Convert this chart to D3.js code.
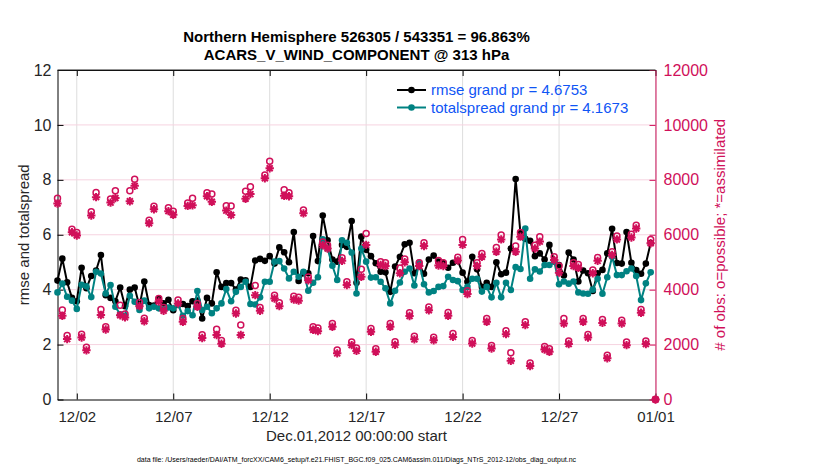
<!DOCTYPE html>
<html>
<head>
<meta charset="utf-8">
<script src="https://cdn.jsdelivr.net/npm/d3@7"></script>
<style>
  body { margin: 0; background: #fff; }
  svg { font-family: "Liberation Sans", Arial, Helvetica, sans-serif; }
  .title { font-size: 15px; font-weight: bold; }
  .tick text { font-size: 16px; }
</style>
</head>
<body>
<div id="container"></div>
<script>
// 6-hourly bins starting Dec 1 2012 00Z
var startTime = "2012-12-01T00:00:00Z";
var stepHours = 6;

var rmse = [4.33,5.13,4.27,3.7,3.58,4.8,4.05,4.5,4.7,5.26,
  3.8,3.7,3.58,4.08,3.4,4.0,4.08,3.4,4.3,3.44,
  3.42,3.68,3.5,3.63,3.25,3.44,3.48,3.4,3.58,3.6,
  2.95,3.7,3.5,4.63,4.1,4.24,4.24,4.0,4.37,4.34,
  4.1,5.06,5.12,5.05,5.22,4.95,5.54,5.36,5.0,6.1,
  4.32,4.6,4.6,5.95,5.04,6.7,5.8,5.1,5.02,5.63,
  5.56,6.5,4.25,5.93,5.45,5.22,4.96,4.65,4.63,3.92,
  4.84,5.2,5.65,5.71,4.6,4.9,4.58,5.1,5.24,5.02,
  4.98,4.8,4.98,5.05,4.62,4.29,5.2,4.74,4.1,4.25,
  4.1,5.0,4.56,4.62,5.5,8.03,6.05,5.85,5.78,5.22,
  5.32,5.1,5.63,5.03,4.9,4.52,5.35,5.1,4.3,4.7,
  4.6,3.95,4.6,4.72,5.32,6.22,4.97,4.95,6.1,4.98,
  4.71,4.58,4.95,5.7];

var spread = [3.9,4.22,3.74,3.6,3.3,4.18,4.12,3.73,4.65,4.59,
  3.86,4.17,3.38,3.1,3.05,3.78,3.56,3.26,3.6,3.32,
  3.38,3.32,3.27,3.35,3.32,3.45,3.05,3.22,3.07,3.95,
  3.26,3.38,3.14,3.32,3.5,4.02,3.58,3.92,4.1,4.29,
  3.48,3.46,3.72,4.29,4.29,5.02,5.04,4.77,4.41,4.65,
  4.47,4.65,3.96,4.25,4.45,5.83,5.5,4.87,4.35,5.8,
  5.71,5.35,3.86,5.5,5.02,4.44,4.45,4.29,4.05,3.5,
  3.96,4.26,4.65,4.77,4.15,4.99,4.2,3.9,3.95,4.1,
  4.13,4.47,4.35,4.31,3.99,4.1,4.4,4.4,3.93,4.1,
  3.72,4.25,3.72,4.25,3.99,4.82,4.75,6.23,4.4,4.74,
  4.66,4.9,4.9,5.03,4.2,4.3,4.22,4.3,3.9,3.86,
  3.85,4.0,4.4,3.85,4.45,5.2,4.53,4.53,4.67,4.77,
  4.5,3.62,4.23,4.63];

var possible = [7330,3260,2330,6200,6080,2380,1900,6840,7540,3280,
  2650,7300,7600,3430,3110,7600,8020,3530,2960,6530,
  7040,3680,3350,6980,6860,3620,2950,7160,7330,3500,
  2360,7530,7480,2560,2150,7060,7050,3250,2710,7580,
  7750,4150,3350,8180,8680,3800,3520,7640,7530,3760,
  3720,6900,4460,2650,2600,5740,5620,2770,1800,5160,
  4290,2090,1880,4740,6050,2590,1850,5020,4980,2770,
  2100,4790,5120,3160,2300,4980,5710,3370,2270,5060,
  4980,3170,2400,5180,5830,3960,2150,4980,5320,2950,
  1970,5540,5990,2500,1700,5590,6080,2830,1330,5620,
  5930,1930,1850,5200,4860,2950,2130,4980,4920,2950,
  2370,4720,5170,2910,1610,5380,5950,2890,2090,6020,
  6350,3280,2130,5830,0];

var assimilated = [7140,3050,2200,6090,5970,2260,1790,6700,7370,3080,
  2550,7170,7340,3070,2990,7220,7780,3400,2850,6420,
  6930,3570,3230,6860,6730,3500,2830,7050,7070,3380,
  2240,7400,7200,2350,2030,6880,6720,3130,2350,7310,
  7480,3800,3230,8060,8420,3680,3400,7420,7400,3640,
  3600,6780,4340,2540,2490,5620,5500,2650,1680,5050,
  4170,1980,1770,4470,5630,2470,1740,4900,4860,2650,
  1990,4600,5000,3040,2190,4860,5590,3250,2160,4880,
  4860,3050,2280,5060,5630,3840,2040,4860,5200,2830,
  1860,5380,5830,2380,1410,5380,5930,2710,1220,5500,
  5750,1820,1740,5080,4620,2770,2020,4860,4800,2830,
  2260,4600,5050,2790,1500,5260,5830,2770,1980,5900,
  6230,3160,2020,5690,0];

var tickDays = ["2012-12-02","2012-12-07","2012-12-12","2012-12-17","2012-12-22","2012-12-27","2013-01-01"];
var tickLabels = ["12/02","12/07","12/12","12/17","12/22","12/27","01/01"];
var leftTicks = [0, 2, 4, 6, 8, 10, 12];
var rightTicks = [0, 2000, 4000, 6000, 8000, 10000, 12000];
var legendLabels = ["rmse grand pr = 4.6753", "totalspread grand pr = 4.1673"];

var width = 830, height = 470;
var margin = { top: 70, right: 174.5, bottom: 70.5, left: 57.5 };
var magenta = "#d0105a", teal = "#008282", legendBlue = "#0f55f5";

var t0 = new Date(startTime);
var times = possible.map(function(d, i) {
  return new Date(t0.getTime() + i * stepHours * 3600 * 1000);
});

var x = d3.scaleUtc()
  .domain([new Date("2012-12-01T00:00:00Z"), new Date("2013-01-01T00:00:00Z")])
  .range([margin.left, width - margin.right]);
var y = d3.scaleLinear()
  .domain([0, 12])
  .range([height - margin.bottom, margin.top]);
var y2 = d3.scaleLinear()
  .domain([0, 12000])
  .range([height - margin.bottom, margin.top]);

var tickDates = tickDays.map(function(d) { return new Date(d + "T00:00:00Z"); });

var svg = d3.select("#container")
  .append("svg")
    .attr("width", width)
    .attr("height", height);

svg.append("rect")
  .attr("width", width)
  .attr("height", height)
  .attr("fill", "#fff");

// grid
svg.append("g")
  .selectAll("line")
    .data(tickDates)
  .enter().append("line")
    .attr("x1", function(d) { return x(d); })
    .attr("x2", function(d) { return x(d); })
    .attr("y1", margin.top)
    .attr("y2", height - margin.bottom)
    .attr("stroke", "#dddddd")
    .attr("stroke-width", 1);
svg.append("g")
  .selectAll("line")
    .data(rightTicks.slice(1, -1))
  .enter().append("line")
    .attr("x1", margin.left)
    .attr("x2", width - margin.right)
    .attr("y1", function(d) { return y2(d); })
    .attr("y2", function(d) { return y2(d); })
    .attr("stroke", "#f6d3e0")
    .attr("stroke-width", 1);

// axes
var xAxis = d3.axisBottom(x)
  .tickValues(tickDates)
  .tickFormat(function(d, i) { return tickLabels[i]; })
  .tickSizeInner(-6)
  .tickSizeOuter(0)
  .tickPadding(12);
var xAxisGroup = svg.append("g")
  .attr("transform", "translate(0," + (height - margin.bottom) + ")")
  .call(xAxis);
xAxisGroup.selectAll("text").attr("fill", "#262626").style("font-size", "15px");

var xAxisTop = d3.axisTop(x)
  .tickValues(tickDates)
  .tickFormat("")
  .tickSizeInner(-6)
  .tickSizeOuter(0);
svg.append("g")
  .attr("transform", "translate(0," + margin.top + ")")
  .call(xAxisTop);

var yAxis = d3.axisLeft(y)
  .tickValues(leftTicks)
  .tickSizeInner(-6)
  .tickSizeOuter(0)
  .tickPadding(6);
var yAxisGroup = svg.append("g")
  .attr("transform", "translate(" + margin.left + ",0)")
  .call(yAxis);
yAxisGroup.selectAll("text").attr("fill", "#262626");

var yAxis2 = d3.axisRight(y2)
  .tickValues(rightTicks)
  .tickFormat(d3.format("d"))
  .tickSizeInner(-6)
  .tickSizeOuter(0)
  .tickPadding(8);
var yAxis2Group = svg.append("g")
  .attr("transform", "translate(" + (width - margin.right) + ",0)")
  .call(yAxis2);
yAxis2Group.selectAll("path, line").attr("stroke", magenta);
yAxis2Group.selectAll("text").attr("fill", magenta);
svg.selectAll(".domain, .tick line").attr("stroke-width", 1);

// series lines
var line = d3.line()
  .x(function(d) { return x(d[0]); })
  .y(function(d) { return y(d[1]); });
var series = [
  { values: rmse, color: "#000" },
  { values: spread, color: teal }
];
series.forEach(function(s) {
  var pts = s.values.map(function(v, i) { return [times[i], v]; });
  svg.append("path")
    .attr("d", line(pts))
    .attr("fill", "none")
    .attr("stroke", s.color)
    .attr("stroke-width", 2)
    .attr("stroke-linejoin", "round");
  svg.append("g")
    .selectAll("circle")
      .data(pts)
    .enter().append("circle")
      .attr("cx", function(d) { return x(d[0]); })
      .attr("cy", function(d) { return y(d[1]); })
      .attr("r", 3.3)
      .attr("fill", s.color);
});

// obs counts
var star = "M-4.2,0H4.2M0,-4.2V4.2M-3,-3L3,3M-3,3L3,-3";
svg.append("g")
  .selectAll("path")
    .data(assimilated)
  .enter().append("path")
    .attr("d", star)
    .attr("transform", function(d, i) { return "translate(" + x(times[i]) + "," + y2(d) + ")"; })
    .attr("fill", "none")
    .attr("stroke", magenta)
    .attr("stroke-width", 2);
svg.append("g")
  .selectAll("circle")
    .data(possible)
  .enter().append("circle")
    .attr("cx", function(d, i) { return x(times[i]); })
    .attr("cy", function(d) { return y2(d); })
    .attr("r", 3)
    .attr("fill", "none")
    .attr("stroke", magenta)
    .attr("stroke-width", 1.5);

// box top
svg.append("line")
  .attr("x1", margin.left)
  .attr("x2", width - margin.right)
  .attr("y1", margin.top)
  .attr("y2", margin.top)
  .attr("stroke", "#262626");

// legend
var legend = svg.append("g")
  .attr("transform", "translate(397,90)");
legendLabels.forEach(function(label, i) {
  var row = legend.append("g")
    .attr("transform", "translate(0," + (i * 17.5) + ")");
  row.append("line")
    .attr("x1", 0)
    .attr("x2", 29)
    .attr("stroke", series[i].color)
    .attr("stroke-width", 2);
  row.append("circle")
    .attr("cx", 14.5)
    .attr("r", 3.3)
    .attr("fill", series[i].color);
  row.append("text")
    .attr("x", 34)
    .attr("dy", "0.36em")
    .attr("font-size", 15)
    .attr("fill", legendBlue)
    .text(label);
});

// titles and labels
var cx = (margin.left + width - margin.right) / 2;
svg.append("text")
  .classed("title", true)
  .attr("x", cx)
  .attr("y", 42)
  .attr("text-anchor", "middle")
  .text("Northern Hemisphere 526305 / 543351 = 96.863%");
svg.append("text")
  .classed("title", true)
  .attr("x", cx)
  .attr("y", 60)
  .attr("text-anchor", "middle")
  .text("ACARS_V_WIND_COMPONENT @ 313 hPa");
svg.append("text")
  .attr("x", cx)
  .attr("y", 441)
  .attr("text-anchor", "middle")
  .attr("font-size", 15)
  .attr("fill", "#262626")
  .text("Dec.01,2012 00:00:00 start");
svg.append("text")
  .attr("transform", "translate(29," + ((margin.top + height - margin.bottom) / 2) + ") rotate(-90)")
  .attr("text-anchor", "middle")
  .attr("font-size", 15)
  .attr("fill", "#262626")
  .text("rmse and totalspread");
svg.append("text")
  .attr("transform", "translate(725," + ((margin.top + height - margin.bottom) / 2) + ") rotate(-90)")
  .attr("text-anchor", "middle")
  .attr("font-size", 15)
  .attr("fill", magenta)
  .text("# of obs: o=possible; *=assimilated");
svg.append("text")
  .attr("x", cx)
  .attr("y", 462)
  .attr("text-anchor", "middle")
  .attr("font-size", 7)
  .attr("fill", "#000")
  .text("data file: /Users/raeder/DAI/ATM_forcXX/CAM6_setup/f.e21.FHIST_BGC.f09_025.CAM6assim.011/Diags_NTrS_2012-12/obs_diag_output.nc");
</script>
</body>
</html>
